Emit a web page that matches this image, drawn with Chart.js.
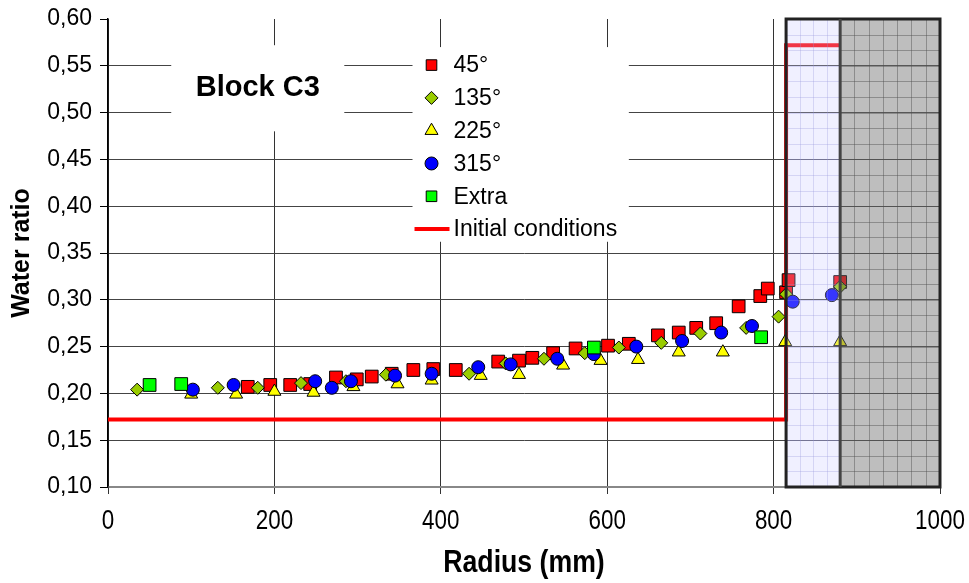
<!DOCTYPE html>
<html>
<head>
<meta charset="utf-8">
<script src="https://cdn.jsdelivr.net/npm/chart.js@4.4.0/dist/chart.umd.min.js"></script>
<style>
  html, body { margin: 0; padding: 0; background: #fff; }
  #wrap { width: 969px; height: 583px; }
</style>
</head>
<body>
<div id="wrap"><canvas id="chart" width="969" height="583"></canvas></div>
<script>
// Block C3 - water ratio along the radius, per measurement direction
const radius45 = [168, 195, 219, 243, 274, 299, 317, 341, 367, 391, 418, 469, 494, 510, 535, 562, 601, 626, 661, 686, 707, 731, 758, 784, 793, 815, 818, 880];
const water45 = [0.207, 0.209, 0.209, 0.210, 0.217, 0.215, 0.218, 0.221, 0.225, 0.226, 0.225, 0.234, 0.235, 0.238, 0.243, 0.248, 0.251, 0.253, 0.262, 0.265, 0.270, 0.275, 0.293, 0.304, 0.312, 0.308, 0.321, 0.319];

const radius135 = [35, 132, 180, 232, 286, 334, 434, 478, 524, 573, 614, 665, 712, 767, 806, 815, 880];
const water135 = [0.204, 0.206, 0.206, 0.211, 0.213, 0.220, 0.221, 0.232, 0.237, 0.243, 0.249, 0.254, 0.264, 0.270, 0.282, 0.306, 0.314];

const radius225 = [100, 154, 200, 247, 295, 348, 389, 448, 494, 547, 592, 637, 686, 739, 814, 880];
const water225 = [0.199, 0.199, 0.202, 0.201, 0.207, 0.210, 0.214, 0.219, 0.220, 0.230, 0.235, 0.236, 0.244, 0.244, 0.255, 0.255];

const radius315 = [102, 151, 249, 269, 292, 345, 389, 445, 484, 540, 584, 635, 690, 737, 774, 823, 870];
const water315 = [0.204, 0.209, 0.213, 0.206, 0.213, 0.219, 0.221, 0.228, 0.231, 0.237, 0.242, 0.250, 0.256, 0.265, 0.272, 0.298, 0.305];

const radiusExtra = [50, 88, 584, 785];
const waterExtra = [0.209, 0.210, 0.249, 0.260];

const radiusInit = [0, 815, 815, 880];
const waterInit = [0.172, 0.172, 0.572, 0.572];

const xTicks = [0, 200, 400, 600, 800, 1000];
const yTicks = [0.10, 0.15, 0.20, 0.25, 0.30, 0.35, 0.40, 0.45, 0.50, 0.55, 0.60];

// shaded zones at the block edge (mm)
const zoneStart = 815;
const zoneSplit = 880;
const zoneEnd = 1000;

const family = '"Liberation Sans", Arial, sans-serif';

function pts(xs, ys) {
    return xs.map((r, i) => ({ x: r, y: ys[i] }));
}

const markers = [
    { label: '45°', xs: radius45, ys: water45, style: 'rect', radius: 9, color: '#ff0000', order: 5 },
    { label: '135°', xs: radius135, ys: water135, style: 'rectRot', radius: 6.5, color: '#99cc00', order: 4 },
    { label: '225°', xs: radius225, ys: water225, style: 'triangle', radius: 7.5, color: '#ffff00', order: 3 },
    { label: '315°', xs: radius315, ys: water315, style: 'circle', radius: 6.5, color: '#0000ff', order: 2 },
    { label: 'Extra', xs: radiusExtra, ys: waterExtra, style: 'rect', radius: 9, color: '#00ff00', order: 1 }
];

const datasets = markers.map(m => ({
    label: m.label,
    data: pts(m.xs, m.ys),
    pointStyle: m.style,
    pointRadius: m.radius,
    pointHoverRadius: m.radius,
    backgroundColor: m.color,
    borderColor: '#000',
    borderWidth: 1,
    showLine: false,
    order: m.order
}));

datasets.push({
    label: 'Initial conditions',
    data: pts(radiusInit, waterInit),
    showLine: true,
    borderColor: '#ff0000',
    borderWidth: 4,
    pointRadius: 0,
    tension: 0,
    fill: false,
    order: 6
});

function drawMarker(ctx, m, cx, cy) {
    const r = m.radius;
    ctx.beginPath();
    if (m.style === 'rect') {
        const h = r * Math.SQRT1_2;
        ctx.rect(cx - h, cy - h, 2 * h, 2 * h);
    } else if (m.style === 'rectRot') {
        ctx.moveTo(cx, cy - r);
        ctx.lineTo(cx + r, cy);
        ctx.lineTo(cx, cy + r);
        ctx.lineTo(cx - r, cy);
        ctx.closePath();
    } else if (m.style === 'triangle') {
        ctx.moveTo(cx, cy - r);
        ctx.lineTo(cx + r * Math.sin(Math.PI / 3), cy + r / 2);
        ctx.lineTo(cx - r * Math.sin(Math.PI / 3), cy + r / 2);
        ctx.closePath();
    } else {
        ctx.arc(cx, cy, r, 0, Math.PI * 2);
    }
    ctx.fillStyle = m.color;
    ctx.fill();
    ctx.lineWidth = 1;
    ctx.strokeStyle = '#000';
    ctx.stroke();
}

// text squeezed horizontally, like the tall narrow lettering of the x axis
function narrowText(ctx, text, cx, cy, font, squeeze) {
    ctx.save();
    ctx.font = font;
    ctx.textAlign = 'center';
    ctx.textBaseline = 'middle';
    ctx.fillStyle = '#000';
    ctx.translate(cx, cy);
    ctx.scale(squeeze, 1);
    ctx.fillText(text, 0, 0);
    ctx.restore();
}

const boxes = {
    id: 'boxes',
    // white label boxes, "Block C3" and the legend, over the grid
    beforeDatasetsDraw(chart) {
        const { ctx } = chart;
        const x = chart.scales.x;
        const y = chart.scales.y;
        ctx.save();

        const bx0 = x.getPixelForValue(76), bx1 = x.getPixelForValue(284);
        const by0 = y.getPixelForValue(0.572), by1 = y.getPixelForValue(0.480);
        ctx.fillStyle = '#fff';
        ctx.fillRect(bx0, by0, bx1 - bx0, by1 - by0);
        ctx.fillStyle = '#000';
        ctx.font = 'bold 29px ' + family;
        ctx.textAlign = 'center';
        ctx.textBaseline = 'middle';
        ctx.fillText('Block C3', (bx0 + bx1) / 2, (by0 + by1) / 2);

        const lx0 = x.getPixelForValue(366), lx1 = x.getPixelForValue(626);
        const ly0 = y.getPixelForValue(0.570), ly1 = y.getPixelForValue(0.362);
        ctx.fillStyle = '#fff';
        ctx.fillRect(lx0, ly0, lx1 - lx0, ly1 - ly0);

        ctx.font = '23px ' + family;
        ctx.textAlign = 'left';
        const rowH = 32.8;
        let ry = ly0 + 18;
        markers.forEach(m => {
            drawMarker(ctx, { style: m.style, radius: Math.min(m.radius, 7.5), color: m.color }, lx0 + 19, ry);
            ctx.fillStyle = '#000';
            ctx.fillText(m.label, lx0 + 41, ry + 1);
            ry += rowH;
        });
        ctx.strokeStyle = '#ff0000';
        ctx.lineWidth = 4;
        ctx.beginPath();
        ctx.moveTo(lx0 + 2, ry);
        ctx.lineTo(lx0 + 37, ry);
        ctx.stroke();
        ctx.fillStyle = '#000';
        ctx.fillText('Initial conditions', lx0 + 41, ry + 1);

        ctx.restore();
    },

    // translucent zones at the block edge, with their fine grid and frame
    afterDatasetsDraw(chart) {
        const { ctx } = chart;
        const x = chart.scales.x;
        const y = chart.scales.y;
        const top = y.getPixelForValue(0.60);
        const bottom = y.getPixelForValue(0.10);
        const a = x.getPixelForValue(zoneStart);
        const b = x.getPixelForValue(zoneSplit);
        const c = x.getPixelForValue(zoneEnd);
        ctx.save();

        ctx.fillStyle = 'rgba(200, 200, 255, 0.27)';
        ctx.fillRect(a, top, b - a, bottom - top);
        ctx.fillStyle = 'rgba(110, 110, 110, 0.45)';
        ctx.fillRect(b, top, c - b, bottom - top);

        ctx.lineWidth = 1;
        const step = 0.05 / 3;
        for (let v = 0.10 + step; v < 0.60; v += step) {
            const py = Math.round(y.getPixelForValue(v)) + 0.5;
            ctx.strokeStyle = 'rgba(150, 150, 220, 0.3)';
            ctx.beginPath(); ctx.moveTo(a, py); ctx.lineTo(b, py); ctx.stroke();
            ctx.strokeStyle = 'rgba(80, 80, 80, 0.45)';
            ctx.beginPath(); ctx.moveTo(b, py); ctx.lineTo(c, py); ctx.stroke();
        }
        ctx.strokeStyle = 'rgba(150, 150, 220, 0.3)';
        for (let r = zoneStart + 65 / 4; r < zoneSplit - 1; r += 65 / 4) {
            const px = Math.round(x.getPixelForValue(r)) + 0.5;
            ctx.beginPath(); ctx.moveTo(px, top); ctx.lineTo(px, bottom); ctx.stroke();
        }
        ctx.strokeStyle = 'rgba(80, 80, 80, 0.45)';
        for (let r = zoneSplit + 120 / 7; r < zoneEnd - 1; r += 120 / 7) {
            const px = Math.round(x.getPixelForValue(r)) + 0.5;
            ctx.beginPath(); ctx.moveTo(px, top); ctx.lineTo(px, bottom); ctx.stroke();
        }

        ctx.strokeStyle = '#222';
        ctx.lineWidth = 3;
        ctx.strokeRect(a, top, c - a, bottom - top);
        ctx.strokeStyle = '#444';
        ctx.beginPath(); ctx.moveTo(b, top); ctx.lineTo(b, bottom); ctx.stroke();

        ctx.restore();
    },

    // x tick labels and x title in narrow lettering
    afterDraw(chart) {
        const { ctx } = chart;
        const x = chart.scales.x;
        const axisY = x.top;
        x.ticks.forEach(t => {
            narrowText(ctx, String(t.value), x.getPixelForValue(t.value), axisY + 34, '28px ' + family, 0.8);
        });
        narrowText(ctx, 'Radius (mm)', (x.left + x.right) / 2, axisY + 76, 'bold 31px ' + family, 0.86);
    }
};

new Chart(document.getElementById('chart'), {
    type: 'scatter',
    data: { datasets },
    options: {
        responsive: false,
        animation: false,
        events: [],
        layout: { padding: { left: 0, right: 29, top: 19, bottom: 0 } },
        plugins: {
            legend: { display: false },
            tooltip: { enabled: false }
        },
        scales: {
            x: {
                type: 'linear',
                min: 0,
                max: 1000,
                afterFit(scale) {
                    scale.height = 96;
                    scale.paddingLeft = 0;
                    scale.paddingRight = 0;
                },
                afterBuildTicks(scale) { scale.ticks = xTicks.map(v => ({ value: v })); },
                ticks: { display: false },
                grid: { color: '#333', lineWidth: 1, tickLength: 7, tickColor: '#333' },
                border: { color: '#888', width: 2 }
            },
            y: {
                type: 'linear',
                min: 0.10,
                max: 0.60,
                afterFit(scale) {
                    scale.width = 108;
                    scale.paddingTop = 0;
                    scale.paddingBottom = 0;
                },
                afterBuildTicks(scale) { scale.ticks = yTicks.map(v => ({ value: v })); },
                ticks: {
                    color: '#000',
                    padding: 8,
                    font: { family, size: 23 },
                    callback: v => v.toFixed(2).replace('.', ',')
                },
                grid: {
                    color: ctx => (ctx.tick && ctx.tick.value > 0.59 ? 'rgba(0,0,0,0)' : '#444'),
                    lineWidth: 1,
                    tickLength: 8,
                    tickColor: '#000'
                },
                border: { color: '#000', width: 1.5 },
                title: {
                    display: true,
                    text: 'Water ratio',
                    color: '#000',
                    font: { family, size: 25, weight: 'bold' },
                    padding: { top: 7, bottom: 0 }
                }
            }
        }
    },
    plugins: [boxes]
});
</script>
</body>
</html>
